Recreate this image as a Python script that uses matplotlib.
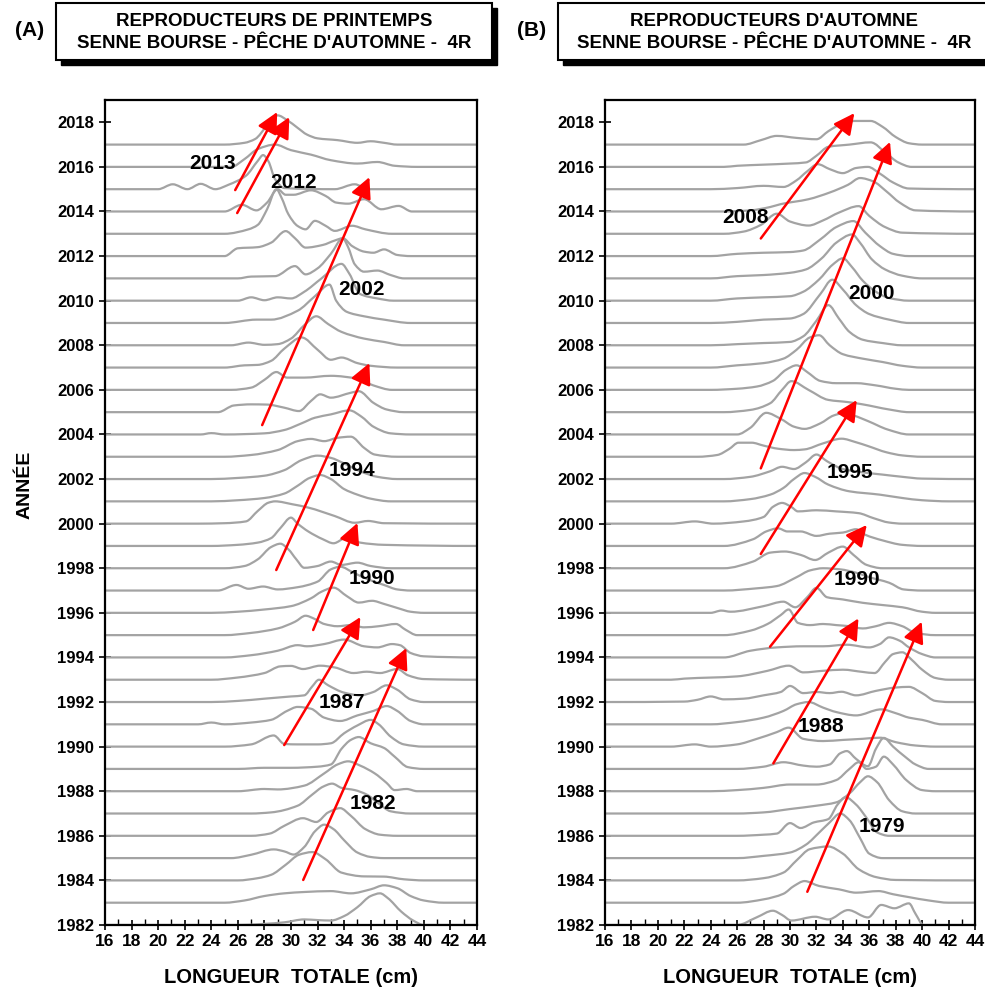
import matplotlib
matplotlib.use("Agg")
import matplotlib.pyplot as plt
from matplotlib.path import Path
from matplotlib.patches import PathPatch, Rectangle
import numpy as np

plt.rcParams['font.family'] = ['Liberation Sans', 'DejaVu Sans']

# ---------------- data ----------------
BASELINE_YEARS = list(range(1982, 2018))
YTICKS = list(range(1982, 2019, 2))
XTICKS = list(range(16, 45, 2))

# Spring spawners (A): year -> [(length cm, relative height in year units)]
SPRING = {
    2017: [(16,0),(25,0),(26.5,0.08),(27.3,0.25),(28.2,0.85),(29,1.31),(29.7,1.1),(30.5,0.75),(31.2,0.45),(32,0.28),(33.5,0.2),(35,0.08),(36,0.15),(37,0.08),(38,0),(44,0)],
    2016: [(16,0),(25.5,0),(26.5,0.35),(27.5,0.8),(28.8,1.0),(30,0.75),(31.5,0.55),(33,0.3),(35,0.15),(36.5,0.22),(37.8,0.05),(39.5,0),(44,0)],
    2015: [(16,0),(20,0),(21.1,0.22),(22.2,0),(23.2,0.24),(24.3,0),(25.3,0.2),(26.6,0.6),(27.5,1.27),(27.9,1.53),(28.3,1.25),(28.8,0.45),(29.5,0.05),(33.3,0),(34.8,0.22),(35.8,0),(44,0)],
    2014: [(16,0),(25,0),(26.3,0.3),(27.4,0.05),(28.2,0.4),(29,1.0),(29.6,0.75),(30.2,0.75),(31.5,0.95),(32.6,0.7),(33.4,0.4),(34.3,0.35),(35.5,0.55),(36.8,0.1),(38.1,0.25),(39.1,0),(44,0)],
    2013: [(16,0),(25,0),(26.8,0.2),(27.5,0.4),(28.2,1.1),(28.9,2.0),(29.3,1.6),(29.8,0.88),(30.5,0.35),(31.1,0.2),(31.8,0.58),(32.6,0.36),(33.3,0.13),(34.6,0.36),(35.6,0.2),(37.6,0),(44,0)],
    2012: [(16,0),(25,0),(26,0.35),(27.5,0.4),(28.5,0.6),(29.6,1.12),(30.3,0.8),(31.1,0.38),(32.4,0.5),(33.3,0.7),(33.9,0.8),(34.6,0.45),(35.5,0.2),(36.2,0.15),(37,0.3),(38,0.05),(39,0),(44,0)],
    2011: [(16,0),(26,0),(27,0.08),(28.8,0.1),(30.3,0.55),(31.1,0.18),(32,0.45),(33,1.1),(33.9,1.79),(34.3,1.4),(34.8,0.63),(35.5,0.3),(36.5,0.35),(37.5,0.15),(38.5,0),(44,0)],
    2010: [(16,0),(26,0),(27,0.15),(28,0.02),(29,0.15),(30,0.1),(31,0.4),(32.3,1.0),(33.8,1.65),(34.4,1.2),(35.2,0.3),(36.5,0.1),(37.7,0),(44,0)],
    2009: [(16,0),(25,0),(27.4,0.15),(28.5,0.15),(30.5,0.55),(31.8,1.2),(32.9,1.72),(33.4,1.0),(34.2,0.5),(35.5,0.3),(37,0.15),(39,0),(44,0)],
    2008: [(16,0),(25.5,0),(26.8,0.12),(28,0.02),(29,0.05),(30,0.3),(31,0.9),(31.9,1.3),(32.8,0.95),(33.8,0.6),(35.5,0.3),(37,0.15),(38.5,0),(44,0)],
    2007: [(16,0),(25,0),(26.5,0.1),(27.5,0.12),(28.5,0.3),(29.5,0.85),(30.8,1.35),(32,0.8),(33,0.35),(33.8,0.45),(35,0.2),(36,0.08),(38,0),(44,0)],
    2006: [(16,0),(25.5,0),(27,0.1),(28,0.45),(28.9,0.8),(29.7,0.55),(31,0.55),(33,0.63),(35,0.5),(36.2,0.2),(37.6,0),(44,0)],
    2005: [(16,0),(24.5,0),(25.7,0.3),(27,0.35),(28.2,0.34),(29.5,0.2),(30.6,0.05),(31.5,0.5),(32.2,0.8),(33,0.65),(34.5,0.87),(35.1,0.94),(36.2,0.42),(37.2,0.12),(38.5,0),(44,0)],
    2004: [(16,0),(23.2,0),(24,0.06),(25,0),(28,0.05),(29.5,0.2),(30.8,0.5),(31.8,0.75),(33,0.9),(34.4,1.08),(35.3,0.8),(36.2,0.35),(37.5,0.05),(39,0),(44,0)],
    2003: [(16,0),(25,0),(27,0.08),(29,0.3),(30.5,0.7),(31.5,0.8),(32.5,0.7),(33.5,0.85),(34.5,0.9),(35.5,0.4),(36.3,0.1),(38,0),(44,0)],
    2002: [(16,0),(24,0),(26,0.05),(28,0.15),(29.5,0.4),(30.8,0.85),(32,1.05),(33,0.95),(34,0.7),(35.2,0.35),(36.5,0.1),(38,0),(44,0)],
    2001: [(16,0),(24,0),(26,0.05),(28,0.15),(29.5,0.35),(30.5,0.7),(31.4,1.05),(32.2,1.18),(33,1.0),(34,0.55),(35,0.3),(36,0.12),(37.5,0),(44,0)],
    2000: [(16,0),(23,0),(25,0.02),(26.6,0.1),(27.5,0.57),(28.3,0.94),(28.8,1.0),(30.1,0.87),(31.3,0.72),(33.3,0.34),(34.8,0.04),(35.8,0.12),(37,0.02),(44,0)],
    1999: [(16,0),(24,0),(26,0.05),(27.5,0.15),(28.5,0.35),(29.2,0.8),(30,1.27),(30.5,1.0),(31.3,0.65),(32.4,0.3),(33.2,0.12),(34.2,0.38),(35.2,0.15),(37,0.05),(44,0)],
    1998: [(16,0),(25,0),(26.5,0.1),(27.5,0.4),(28.5,0.95),(29.2,1.1),(29.8,0.85),(30.4,0.4),(31,0.02),(32,0.1),(33,0.3),(33.8,0.15),(35,0.25),(36,0.1),(37.5,0),(44,0)],
    1997: [(16,0),(24.5,0),(25.9,0.25),(26.8,0.08),(27.9,0.18),(29,0.05),(30.5,0.15),(32,0.4),(33,0.95),(33.7,1.07),(34.7,0.8),(35.8,0.5),(37,0.25),(38,0.05),(39,0),(44,0)],
    1996: [(16,0),(24,0),(26,0.05),(28,0.15),(30,0.3),(31.5,0.65),(32.3,0.95),(33.2,1.13),(34.2,0.75),(35.1,0.46),(36.1,0.54),(37,0.4),(38.1,0.2),(39,0.05),(40,0),(44,0)],
    1995: [(16,0),(25,0),(27,0.1),(29,0.3),(30.3,0.6),(31.1,0.87),(31.7,0.75),(32.5,0.5),(33.5,0.4),(34.5,0.45),(35.5,0.35),(36.6,0.4),(37.9,0.5),(38.6,0.25),(39.5,0),(44,0)],
    1994: [(16,0),(25,0),(27,0.1),(29,0.3),(30.5,0.55),(31.2,0.5),(32.5,0.6),(34,0.8),(35.5,0.5),(36.5,0.45),(37.6,0.6),(38.2,0.55),(39,0.2),(40,0.05),(44,0)],
    1993: [(16,0),(24,0),(26,0.1),(28,0.3),(29.2,0.6),(30,0.62),(30.9,0.48),(32.2,0.63),(33.3,0.55),(34.7,0.3),(35.7,0.36),(36.7,0.3),(38,0.48),(38.8,0.2),(40,0.03),(44,0)],
    1992: [(16,0),(24,0),(26,0.05),(28,0.15),(30,0.25),(31,0.3),(31.6,0.7),(32.1,1.0),(32.8,0.75),(34,0.42),(35.2,0.3),(36.2,0.45),(37.2,0.75),(38,0.55),(39,0.12),(40,0),(44,0)],
    1991: [(16,0),(23,0),(24,0.08),(25,0),(27,0.08),(28.5,0.2),(29.7,0.6),(30.5,0.78),(31.5,0.7),(32.5,0.3),(33.7,0.15),(35,0.4),(36.2,0.6),(37.2,0.82),(38,0.6),(39,0.15),(40,0),(44,0)],
    1990: [(16,0),(25,0),(27,0.1),(28.7,0.5),(29.5,0.12),(30.5,0.1),(32,0.1),(33,0.15),(34,0.6),(35,0.95),(36,1.2),(36.6,1.0),(37.5,0.45),(38.5,0.1),(40,0),(44,0)],
    1989: [(16,0),(26,0),(28,0.05),(30,0.05),(32,0.1),(33,0.2),(33.8,0.9),(34.5,1.3),(35.1,1.43),(36,1.15),(37,0.94),(37.8,0.55),(38.8,0.08),(40,0),(44,0)],
    1988: [(16,0),(26,0),(28,0.1),(29,0.08),(31,0.25),(32.5,0.8),(33.5,1.2),(34.3,1.34),(35.2,1.15),(36.3,0.8),(37.2,0.37),(37.8,0.05),(38.7,0.1),(39.5,0),(44,0)],
    1987: [(16,0),(27,0),(28.5,0.05),(30.5,0.35),(31.6,0.85),(32.4,1.2),(33.1,1.34),(33.8,1.15),(34.8,1.05),(35.7,0.85),(36.6,0.45),(37.5,0.1),(39,0),(44,0)],
    1986: [(16,0),(27,0),(28.4,0.1),(29.5,0.45),(30.9,0.79),(31.9,0.62),(32.8,1.05),(33.7,1.24),(34.5,0.9),(35.6,0.3),(36.7,0.05),(38,0),(44,0)],
    1985: [(16,0),(25.5,0),(27,0.15),(28.7,0.39),(29.5,0.3),(30.2,0.16),(31,0.5),(31.8,1.2),(32.5,1.5),(33.2,1.3),(34,0.8),(35,0.25),(36,0.05),(37,0),(44,0)],
    1984: [(16,0),(26,0),(27.5,0.1),(28.5,0.25),(29.6,0.7),(30.6,1.15),(31.6,1.27),(32.6,0.95),(33.8,0.35),(35.5,0.18),(37,0.17),(38.5,0.05),(40,0),(44,0)],
    1983: [(16,0),(25,0),(26.5,0.1),(28,0.3),(29.5,0.42),(31,0.48),(33,0.52),(34.5,0.42),(36,0.6),(37,0.78),(38,0.65),(39,0.3),(40,0.1),(41.5,0),(44,0)],
    1982: [(16,0),(26,0),(28,0.05),(29.5,0.12),(31,0.25),(32,0.22),(33,0.2),(34,0.4),(35,0.8),(36,1.3),(36.7,1.42),(37.3,1.2),(38.3,0.6),(39.2,0.2),(40,0),(44,0)],
}

# Autumn spawners (B)
AUTUMN = {
    2017: [(16,0),(26.5,0),(27.8,0.2),(29,0.39),(30.5,0.3),(32,0.24),(32.9,0.6),(33.9,0.93),(34.9,1.06),(36.1,1.06),(37,0.8),(38,0.34),(39,0.06),(40,0),(44,0)],
    2016: [(16,0),(25,0),(26,0.05),(28,0.1),(30,0.15),(31.2,0.2),(32,0.5),(32.9,0.9),(34.5,1.0),(36.1,1.1),(37.3,0.6),(38.2,0.2),(39.2,0),(44,0)],
    2015: [(16,0),(24,0),(26,0.05),(28,0.15),(29.5,0.1),(30.5,0.4),(31.3,0.8),(32.1,1.12),(33,0.9),(34,0.72),(35,0.95),(35.9,1.0),(36.8,0.7),(37.8,0.3),(39,0.03),(44,0)],
    2014: [(16,0),(25,0),(27,0.05),(28.5,0.2),(29.3,0.33),(31.4,0.55),(33,0.85),(34.4,1.2),(35.3,1.5),(36.3,1.35),(37.3,0.9),(38.3,0.4),(39.5,0.05),(44,0)],
    2013: [(16,0),(25,0),(26.5,0.1),(27.8,0.4),(29,0.9),(30,0.55),(31.4,0.37),(32.5,0.6),(33.7,0.95),(35.2,1.24),(36,0.8),(37.2,0.3),(38.5,0.05),(44,0)],
    2012: [(16,0),(24,0),(26,0.1),(28,0.15),(30,0.18),(31,0.25),(32.3,0.75),(33.5,1.3),(34.8,1.57),(35.7,1.05),(36.8,0.45),(37.8,0.1),(39,0),(44,0)],
    2011: [(16,0),(24,0),(26,0.1),(28,0.15),(30,0.25),(31.2,0.4),(32.4,0.9),(33.5,1.6),(34.7,1.97),(35.3,1.6),(36.2,0.85),(37.2,0.4),(38.5,0.12),(40,0),(44,0)],
    2010: [(16,0),(24,0),(26,0.1),(28,0.15),(30,0.2),(31,0.4),(32.2,0.95),(33.2,1.6),(34,1.9),(34.7,1.5),(35.5,0.9),(36.5,0.4),(37.5,0.12),(39,0),(44,0)],
    2009: [(16,0),(24,0),(26,0.05),(28,0.15),(30,0.2),(31,0.4),(32.3,1.3),(33.2,1.94),(34,1.5),(35,0.8),(36,0.4),(37.5,0.15),(39,0),(44,0)],
    2008: [(16,0),(24,0),(26,0.05),(28,0.1),(30,0.15),(31,0.4),(32,1.1),(32.9,1.8),(33.7,1.2),(34.5,0.6),(35.5,0.25),(37,0.1),(38.5,0),(44,0)],
    2007: [(16,0),(24,0),(26,0.1),(28,0.2),(29.5,0.4),(30.5,0.8),(31.5,1.35),(32.2,1.45),(33,1.0),(34,0.6),(35.5,0.4),(37,0.25),(38.5,0.08),(40,0),(44,0)],
    2006: [(16,0),(24,0),(26,0.05),(27.5,0.15),(28.7,0.4),(29.7,0.9),(30.5,1.1),(31.3,0.8),(32.3,0.4),(33.5,0.3),(35,0.3),(36.5,0.2),(38,0.05),(39,0),(44,0)],
    2005: [(16,0),(25,0),(27,0.1),(28.5,0.4),(29.4,1.0),(30.1,1.39),(31.4,1.0),(32.9,0.55),(34.4,0.45),(35.5,0.35),(37.5,0.12),(39,0),(44,0)],
    2004: [(16,0),(26,0),(27,0.3),(28.2,0.97),(29.3,0.7),(30.3,0.35),(31.1,0.25),(32.3,0.5),(33.3,0.85),(34,0.95),(34.8,0.85),(35.9,0.6),(37.4,0.22),(39,0),(44,0)],
    2003: [(16,0),(23,0),(24.5,0.08),(25.4,0.35),(26.1,0.63),(27.1,0.63),(28,0.5),(29.1,0.36),(30.3,0.3),(31.1,0.33),(32.5,0.6),(33.9,0.81),(35,0.65),(35.9,0.48),(37.3,0.2),(38.5,0.06),(40,0),(44,0)],
    2002: [(16,0),(25,0),(27,0.1),(28.5,0.35),(29.4,0.55),(30.3,0.45),(31.2,0.75),(32,1.1),(32.8,0.8),(34,0.45),(35.5,0.3),(37,0.2),(38.5,0.1),(40,0.02),(44,0)],
    2001: [(16,0),(25,0),(27,0.1),(28.5,0.3),(29.5,0.6),(30.3,1.0),(31.1,1.27),(31.9,1.1),(32.9,0.75),(34.5,0.45),(36.8,0.3),(38.5,0.15),(40,0.05),(42,0),(44,0)],
    2000: [(16,0),(21,0),(22.8,0.1),(24.2,0),(26.5,0.1),(28,0.3),(28.7,0.75),(29.4,0.93),(30.1,0.75),(30.6,0.55),(32,0.6),(33.5,0.55),(35.2,0.47),(36.3,0.25),(37.5,0.05),(38.5,0),(44,0)],
    1999: [(16,0),(25,0),(27.2,0.3),(28.2,0.65),(29.1,0.79),(29.8,0.65),(30.8,0.65),(32,0.45),(33,0.55),(34,0.6),(35,0.75),(35.7,0.5),(37,0.25),(38.5,0.05),(40,0),(44,0)],
    1998: [(16,0),(25,0),(27.2,0.3),(28.5,0.7),(29.6,0.75),(30.8,0.6),(31.9,0.37),(32.9,0.7),(34,0.97),(34.8,0.6),(35.8,0.15),(37,0),(44,0)],
    1997: [(16,0),(25,0),(27.5,0.1),(29,0.2),(30.5,0.6),(31.5,0.9),(32.5,1.0),(33.8,0.95),(35,0.8),(36,0.6),(37.5,0.35),(38.6,0.05),(40,0),(44,0)],
    1996: [(16,0),(24,0),(24.8,0.1),(25.5,0.05),(28,0.3),(29.5,0.5),(30.4,0.25),(31.3,0.7),(32,1.12),(32.8,0.7),(34,0.6),(35.5,0.45),(37,0.35),(38.5,0.25),(40,0.05),(41,0),(44,0)],
    1995: [(16,0),(25,0),(27,0.2),(28.3,0.5),(29.3,0.9),(29.9,1.15),(30.6,0.55),(31.5,0.45),(32.5,0.5),(33.5,0.45),(34.5,0.4),(35.5,0.3),(36.5,0.4),(37.5,0.55),(38.5,0.4),(39.5,0.1),(41,0),(44,0)],
    1994: [(16,0),(25,0),(27,0.3),(29,0.45),(31,0.5),(32.5,0.5),(34.3,0.57),(36,0.45),(36.8,0.6),(37.5,0.9),(38.3,0.75),(39,0.45),(40,0.15),(41,0),(44,0)],
    1993: [(16,0),(21,0),(22,0.05),(26,0.15),(28.3,0.4),(29.9,0.63),(31,0.33),(32.5,0.4),(34,0.45),(35.5,0.35),(36.4,0.3),(37.2,0.8),(37.8,1.15),(38.5,1.23),(39.2,0.9),(40,0.45),(41,0.08),(42,0),(44,0)],
    1992: [(16,0),(22,0.02),(23,0.1),(24,0.25),(25,0.12),(26.5,0.15),(28,0.3),(29.3,0.45),(30,0.72),(31,0.4),(32,0.45),(33,0.4),(33.9,0.46),(35,0.3),(36.5,0.5),(38,0.65),(39,0.68),(40,0.4),(41,0.05),(42,0),(44,0)],
    1991: [(16,0),(24,0),(26,0.1),(28,0.3),(29.5,0.6),(30.5,0.9),(31.4,1.0),(32.5,0.75),(33.5,0.55),(35,0.4),(36.9,0.67),(38,0.5),(39,0.3),(40,0.2),(41.5,0),(44,0)],
    1990: [(16,0),(21,0),(22.8,0.1),(24,0),(26,0.1),(27.5,0.35),(29,0.65),(29.9,0.85),(31,0.35),(32.5,0.25),(34,0.3),(35.5,0.35),(36.8,0.4),(38,0.2),(39.5,0.05),(41,0),(44,0)],
    1989: [(16,0),(26,0),(28,0.1),(29.5,0.3),(31,0.15),(32,0.1),(33,0.2),(33.8,0.7),(34.3,0.8),(35,0.45),(35.9,0.12),(36.5,0.9),(37.1,1.39),(37.8,1.0),(38.7,0.55),(39.5,0.2),(40.5,0),(44,0)],
    1988: [(16,0),(24,0),(26,0.05),(28,0.15),(30,0.3),(32,0.3),(33.5,0.5),(34.5,1.0),(35.2,1.3),(35.8,1.0),(36.5,1.1),(37.1,1.55),(37.8,1.2),(38.8,0.5),(40,0.05),(41,0),(44,0)],
    1987: [(16,0),(26,0),(28,0.05),(30,0.2),(32,0.35),(33.5,0.5),(34.5,0.9),(35.3,1.4),(35.9,1.67),(36.6,1.4),(37.5,0.6),(38.5,0.1),(39.5,0),(44,0)],
    1986: [(16,0),(26,0),(28,0.05),(29,0.1),(30,0.57),(30.8,0.35),(31.8,0.6),(32.9,0.75),(33.6,1.4),(34.2,1.73),(35,1.4),(35.8,0.8),(36.6,0.15),(37.5,0),(44,0)],
    1985: [(16,0),(26,0),(28,0.1),(30,0.25),(31.2,0.6),(32.3,1.2),(33,1.6),(33.8,2.0),(34.5,1.7),(35.3,0.9),(36,0.2),(37,0),(44,0)],
    1984: [(16,0),(26,0),(28,0.1),(29.5,0.35),(30.5,0.9),(31.5,1.4),(32.9,1.52),(34,1.2),(35.2,0.5),(36.5,0.15),(38,0.02),(44,0)],
    1983: [(16,0),(26,0),(28,0.15),(29.5,0.4),(30.3,0.75),(31.1,0.97),(32.2,0.75),(33.7,0.6),(35,0.45),(36.7,0.52),(37.8,0.38),(39,0.25),(40.5,0.1),(42,0),(44,0)],
    1982: [(16,0),(26,0),(27.5,0.35),(28.7,0.64),(29.4,0.45),(30.1,0.2),(31.9,0.37),(32.9,0.25),(34.4,0.67),(35.9,0.34),(36.9,0.9),(37.9,0.75),(39,0.97),(39.5,0.5),(40.1,0),(44,0)],
}

# arrows: (tail length, tail year) -> (head length, head year)
SPRING_ARROWS = [((25.8, 2014.96), (28.96, 2018.46)),
                 ((25.95, 2013.93), (29.87, 2018.23)),
                 ((27.83, 2004.42), (35.9, 2015.54)),
                 ((28.89, 1997.92), (35.9, 2007.2)),
                 ((31.67, 1995.23), (35.0, 2000.03)),
                 ((29.49, 1990.07), (35.22, 1995.81)),
                 ((30.92, 1984.02), (38.68, 1994.42))]
SPRING_LABELS = [("2013", 24.06, 2016.17), ("2012", 30.17, 2015.32), ("2002", 35.29, 2010.48),
                 ("1994", 34.6, 2002.4), ("1990", 36.1, 1997.56), ("1987", 33.8, 1991.96),
                 ("1982", 36.2, 1987.47)]

AUTUMN_ARROWS = [((27.79, 2012.79), (34.87, 2018.41)),
                 ((27.79, 2002.48), (37.57, 2017.12)),
                 ((27.79, 1998.64), (35.05, 2005.54)),
                 ((28.49, 1994.48), (35.81, 1999.94)),
                 ((28.74, 1989.25), (35.18, 1995.75)),
                 ((31.31, 1983.49), (39.97, 1995.6))]
AUTUMN_LABELS = [("2008", 26.6, 2013.72), ("2000", 36.19, 2010.33), ("1995", 34.55, 2002.28),
                 ("1990", 35.05, 1997.5), ("1988", 32.35, 1990.89), ("1979", 36.94, 1986.4)]

TITLES = [["REPRODUCTEURS DE PRINTEMPS", "SENNE BOURSE - PÊCHE D'AUTOMNE -  4R"],
          ["REPRODUCTEURS D'AUTOMNE", "SENNE BOURSE - PÊCHE D'AUTOMNE -  4R"]]
PANEL_TAGS = ["(A)", "(B)"]

# ---------------- drawing ----------------
W, H = 985, 990
fig = plt.figure(figsize=(W / 100, H / 100), dpi=100)


def pchip_path(xs, ys):
    xs = np.asarray(xs, float)
    ys = np.asarray(ys, float)
    n = len(xs)
    d = np.diff(ys) / np.diff(xs)
    m = np.zeros(n)
    for i in range(1, n - 1):
        if d[i - 1] * d[i] > 0:
            h0 = xs[i] - xs[i - 1]
            h1 = xs[i + 1] - xs[i]
            w1 = 2 * h1 + h0
            w2 = h1 + 2 * h0
            m[i] = (w1 + w2) / (w1 / d[i - 1] + w2 / d[i])
    verts = [(xs[0], ys[0])]
    codes = [Path.MOVETO]
    for i in range(n - 1):
        dx = xs[i + 1] - xs[i]
        verts += [(xs[i] + dx / 3, ys[i] + m[i] * dx / 3),
                  (xs[i + 1] - dx / 3, ys[i + 1] - m[i + 1] * dx / 3),
                  (xs[i + 1], ys[i + 1])]
        codes += [Path.CURVE4] * 3
    return Path(verts, codes)


def px_rect(x0, y0, x1, y1):
    return [x0 / W, 1 - y1 / H, (x1 - x0) / W, (y1 - y0) / H]


panels = [(SPRING, SPRING_ARROWS, SPRING_LABELS, px_rect(105, 100, 477, 925)),
          (AUTUMN, AUTUMN_ARROWS, AUTUMN_LABELS, px_rect(605, 100, 975, 925))]

for k, (profiles, arrows, labels, rect) in enumerate(panels):
    ax = fig.add_axes(rect)
    ax.set_xlim(16, 44)
    ax.set_ylim(1982, 2019)
    for yr in BASELINE_YEARS:
        pts = profiles[yr]
        xs = [p[0] for p in pts]
        ys = [yr + p[1] for p in pts]
        ax.add_patch(PathPatch(pchip_path(xs, ys), fill=False, edgecolor='#a3a3a3',
                               lw=1.6, zorder=2, capstyle='round', joinstyle='round'))
    for (tx, ty), (hx, hy) in arrows:
        ax.annotate('', xy=(hx, hy), xytext=(tx, ty),
                    arrowprops=dict(arrowstyle='-|>,head_length=0.9,head_width=0.45',
                                    color='#ff0000', lw=1.8, shrinkA=0, shrinkB=0,
                                    mutation_scale=14), zorder=4)
    for txt, lx, ly in labels:
        ax.text(lx, ly, txt, fontsize=15, fontweight='bold', ha='center', va='center',
                color='black', zorder=5)
    ax.set_xticks(XTICKS)
    ax.set_xticks(range(17, 44, 2), minor=True)
    ax.set_yticks(YTICKS)
    ax.tick_params(axis='x', which='major', direction='inout', length=7, width=1.2,
                   labelsize=12.5, pad=3)
    ax.tick_params(axis='x', which='minor', direction='in', length=4, width=1.0)
    ax.tick_params(axis='y', which='major', direction='inout', length=8, width=1.2,
                   labelsize=12, pad=4)
    for lab in ax.get_xticklabels() + ax.get_yticklabels():
        lab.set_fontweight('bold')
    for sp in ax.spines.values():
        sp.set_linewidth(1.6)
    ax.set_xlabel('LONGUEUR  TOTALE (cm)', fontsize=14.5, fontweight='bold', labelpad=14)

# y label placed like the reference (slightly above the axis centre)
fig.text(25 / W, 1 - 485 / H, 'ANNÉE', rotation=90, ha='center', va='center',
         fontsize=14, fontweight='bold')

# title boxes
boxes = [(56, 3, 492, 60), (558, 3, 991, 60)]
for k, (x0, y0, x1, y1) in enumerate(boxes):
    sh = Rectangle(((x0 + 5) / W, 1 - (y1 + 5) / H), (x1 - x0) / W, (y1 - y0) / H,
                   transform=fig.transFigure, facecolor='black', edgecolor='black', lw=1)
    bx = Rectangle((x0 / W, 1 - y1 / H), (x1 - x0) / W, (y1 - y0) / H,
                   transform=fig.transFigure, facecolor='white', edgecolor='black', lw=1.5)
    fig.add_artist(sh)
    fig.add_artist(bx)
    cx = (x0 + x1) / 2
    fig.text(cx / W, 1 - 22 / H, TITLES[k][0], ha='center', va='center',
             fontsize=13.5, fontweight='bold')
    fig.text(cx / W, 1 - 44 / H, TITLES[k][1], ha='center', va='center',
             fontsize=13.5, fontweight='bold')
    fig.text((x0 - 26) / W, 1 - 31 / H, PANEL_TAGS[k], ha='center', va='center',
             fontsize=15, fontweight='bold')

fig.savefig('out.png', dpi=100)
